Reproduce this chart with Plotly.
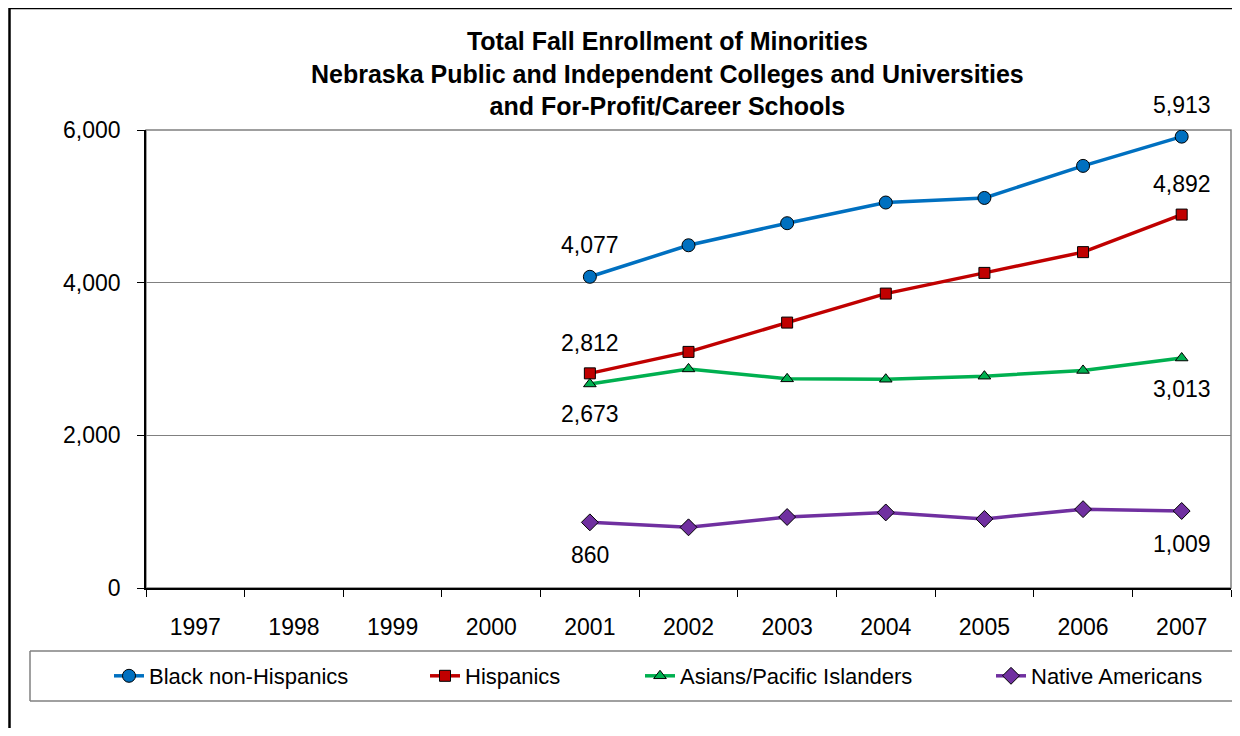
import plotly.graph_objects as go

# ---------------- data ----------------
years = ["1997", "1998", "1999", "2000", "2001", "2002", "2003", "2004", "2005", "2006", "2007"]
data_years = ["2001", "2002", "2003", "2004", "2005", "2006", "2007"]
black = [4077, 4490, 4779, 5050, 5110, 5530, 5913]
hispanics = [2812, 3093, 3477, 3857, 4128, 4400, 4892]
asians = [2673, 2870, 2740, 2735, 2775, 2850, 3013]
native = [860, 795, 930, 990, 905, 1033, 1009]
series_names = ["Black non-Hispanics", "Hispanics", "Asians/Pacific Islanders", "Native Americans"]
y_ticks = [0, 2000, 4000, 6000]
title_lines = ["Total Fall Enrollment of Minorities",
               "Nebraska Public and Independent Colleges and Universities",
               "and For-Profit/Career Schools"]

# ---------------- layout geometry (screen pixels) ----------------
OFF = 8  # page body margin
W, H = 1240 - 2 * OFF, 736 - 2 * OFF
PL, PR, PT, PB = 146, 1231, 130, 588


def px_x(p):
    return (p - PL) / (PR - PL)


def px_y(p):
    return (PB - p) / (PB - PT)


FONT = "Liberation Sans, Arial, sans-serif"
colors = ["#0070C0", "#C00000", "#00B050", "#7030A0"]
symbols = ["circle", "square", "triangle-up", "diamond"]
msizes = [13, 11, 11, 13]
all_series = [black, hispanics, asians, native]
legend_ids = ["legend", "legend2", "legend3", "legend4"]
legend_text_x = [151, 467, 682, 1033]

fig = go.Figure()
for name, vals, col, sym, ms, lid in zip(series_names, all_series, colors, symbols, msizes, legend_ids):
    fig.add_trace(go.Scatter(
        x=data_years, y=vals, name=name, mode="lines+markers",
        line=dict(color=col, width=3.5),
        marker=dict(symbol=sym, size=ms, color=col, line=dict(color="black", width=1)),
        legend=lid,
    ))

# data labels at first and last points
label_shift = [(32, 32), (30, 31), (-30, -31), (-33, -33)]
annotations = []
for i, vals in enumerate(all_series):
    for j, idx in enumerate([0, len(vals) - 1]):
        annotations.append(dict(
            x=years.index(data_years[idx]), y=vals[idx], xref="x", yref="y",
            text=f"{vals[idx]:,}", showarrow=False, yshift=label_shift[i][j],
            font=dict(family=FONT, size=23, color="black"),
        ))

annotations.append(dict(
    x=px_x(667), y=px_y(74), xref="paper", yref="paper",
    text="<br>".join(title_lines), showarrow=False,
    xanchor="center", yanchor="middle",
    font=dict(family=FONT, size=25, color="black", weight="bold"),
))

shapes = [
    # outer chart border: only left and top edges are visible (chart is cropped)
    dict(type="line", xref="paper", yref="paper",
         x0=px_x(9.5), y0=px_y(740), x1=px_x(9.5), y1=px_y(8),
         line=dict(color="black", width=2.5), layer="below"),
    dict(type="line", xref="paper", yref="paper",
         x0=px_x(9.5), y0=px_y(8), x1=px_x(1240), y1=px_y(8),
         line=dict(color="black", width=2.5), layer="below"),
    # plot-area border
    dict(type="rect", xref="paper", yref="paper",
         x0=0, y0=0, x1=1, y1=1,
         line=dict(color="#808080", width=1.5), layer="below"),
    # legend box (right edge cropped)
    dict(type="line", xref="paper", yref="paper",
         x0=px_x(30), y0=px_y(651), x1=px_x(1240), y1=px_y(651),
         line=dict(color="#808080", width=1.5), layer="below"),
    dict(type="line", xref="paper", yref="paper",
         x0=px_x(30), y0=px_y(701), x1=px_x(1240), y1=px_y(701),
         line=dict(color="#808080", width=1.5), layer="below"),
    dict(type="line", xref="paper", yref="paper",
         x0=px_x(30), y0=px_y(651), x1=px_x(30), y1=px_y(701),
         line=dict(color="#808080", width=1.5), layer="below"),
]

layout_legends = {}
for lid, tx in zip(legend_ids, legend_text_x):
    layout_legends[lid] = dict(
        x=px_x(tx - 42), y=px_y(676), xref="paper", yref="paper",
        xanchor="left", yanchor="middle", orientation="h",
        bgcolor="rgba(0,0,0,0)", borderwidth=0,
        font=dict(family=FONT, size=22, color="black"),
    )

fig.update_layout(
    width=W, height=H,
    margin=dict(l=PL - OFF, r=W - (PR - OFF), t=PT - OFF, b=H - (PB - OFF), pad=0),
    paper_bgcolor="white", plot_bgcolor="white",
    showlegend=True,
    annotations=annotations,
    shapes=shapes,
    xaxis=dict(
        type="category", categoryorder="array", categoryarray=years,
        tickvals=years, range=[-0.5, len(years) - 0.5],
        tickson="boundaries", ticks="outside", ticklen=7, tickcolor="black", tickwidth=1,
        showline=True, linecolor="black", linewidth=1.5, showgrid=False, zeroline=False,
        tickfont=dict(family=FONT, size=23, color="black"), ticklabelstandoff=18,
        fixedrange=True,
    ),
    yaxis=dict(
        range=[0, 6000], tickvals=y_ticks, tickformat=",",
        ticks="outside", ticklen=7, tickcolor="black", tickwidth=1,
        showline=True, linecolor="black", linewidth=1.5,
        showgrid=True, gridcolor="#808080", gridwidth=1, zeroline=False,
        tickfont=dict(family=FONT, size=23, color="black"), ticklabelstandoff=12,
        fixedrange=True,
    ),
    **layout_legends,
)

fig.write_html("out.html")
